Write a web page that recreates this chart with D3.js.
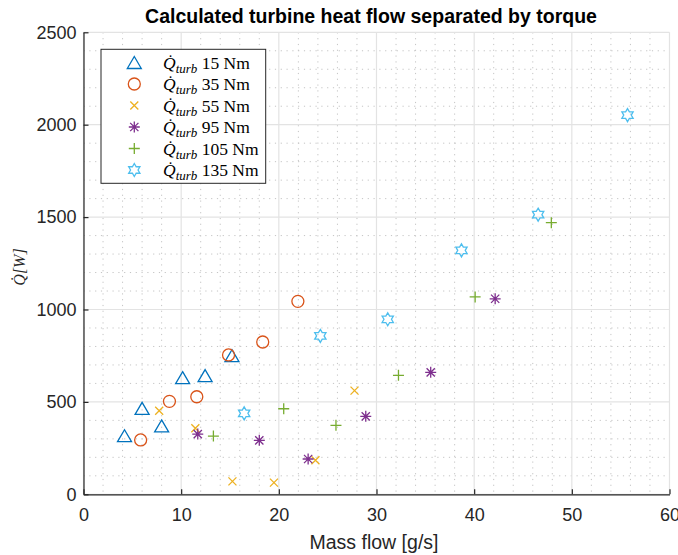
<!DOCTYPE html>
<html><head><meta charset="utf-8">
<script src="https://cdn.jsdelivr.net/npm/d3@7"></script>
<style>body{margin:0;background:#fff}svg{display:block}</style>
</head><body><svg id="c" width="678" height="555"></svg>
<script>
const seriesNames = ["15 Nm","35 Nm","55 Nm","95 Nm","105 Nm","135 Nm"];
const seriesColors = ["#0072BD","#D95319","#EDB120","#7E2F8E","#77AC30","#4DBEEE"];
const seriesMarkers = ["triangle","circle","x","asterisk","plus","hexagram"];
const massFlow15 = [4.2,6.0,8.0,10.15,12.45,15.2];
const heat15 = [317,465,370,631,642,750];
const massFlow35 = [5.85,8.8,11.6,14.85,18.35,21.95];
const heat35 = [294,503,528,754,824,1044];
const massFlow55 = [7.75,11.45,15.25,19.5,23.75,27.75];
const heat55 = [452,357,70,63,184,561];
const massFlow95 = [11.7,18.0,23.0,28.9,35.55,42.15];
const heat95 = [326,292,191,422,660,1058];
const massFlow105 = [13.3,20.5,25.85,32.25,40.1,47.9];
const heat105 = [315,463,373,644,1068,1470];
const massFlow135 = [16.45,24.25,31.15,38.7,46.55,55.7];
const heat135 = [438,857,947,1320,1513,2052];
const xTicks = [0,10,20,30,40,50,60];
const yTicks = [0,500,1000,1500,2000,2500];

const xs = [massFlow15,massFlow35,massFlow55,massFlow95,massFlow105,massFlow135];
const ys = [heat15,heat35,heat55,heat95,heat105,heat135];

const svg = d3.select("#c");
const L=83.5, R=669.5, T=32.3, B=494.3;
const x = d3.scaleLinear().domain([0,60]).range([L,R]);
const y = d3.scaleLinear().domain([0,2500]).range([B,T]);

// minor grid
const g = svg.append("g");
g.selectAll(".mx").data(d3.range(0,61,2).filter(v=>v%10)).join("line")
 .attr("x1",d=>x(d)).attr("x2",d=>x(d)).attr("y1",T).attr("y2",B)
 .attr("stroke","#c4c4c4").attr("stroke-width",1).attr("stroke-dasharray","1.2,4.6");
g.selectAll(".my").data(d3.range(0,2501,100).filter(v=>v%500)).join("line")
 .attr("y1",d=>y(d)).attr("y2",d=>y(d)).attr("x1",L).attr("x2",R)
 .attr("stroke","#c4c4c4").attr("stroke-width",1).attr("stroke-dasharray","1.2,4.6");
// major grid
g.selectAll(".Mx").data(xTicks).join("line")
 .attr("x1",d=>x(d)).attr("x2",d=>x(d)).attr("y1",T).attr("y2",B)
 .attr("stroke","#e3e3e3").attr("stroke-width",1.2);
g.selectAll(".My").data(yTicks).join("line")
 .attr("y1",d=>y(d)).attr("y2",d=>y(d)).attr("x1",L).attr("x2",R)
 .attr("stroke","#e3e3e3").attr("stroke-width",1.2);

// axes
const font = "'Liberation Sans', Arial, sans-serif";
const xa = svg.append("g").attr("transform",`translate(0,${B})`)
 .call(d3.axisBottom(x).tickValues(xTicks).tickFormat(d3.format("d")).tickSizeInner(-5).tickSizeOuter(0).tickPadding(14));
const ya = svg.append("g").attr("transform",`translate(${L},0)`)
 .call(d3.axisLeft(y).tickValues(yTicks).tickFormat(d3.format("d")).tickSizeInner(-5).tickSizeOuter(0).tickPadding(7));
[xa,ya].forEach(a=>{
  a.select(".domain").attr("stroke","#262626").attr("stroke-width",1.2);
  a.selectAll(".tick line").attr("stroke","#262626").attr("stroke-width",1.2);
  a.selectAll("text").attr("font-family",font).attr("font-size",18).attr("fill","#262626");
});
xa.selectAll("text").attr("dy","0.71em");

// markers
function markerPath(type){
  const p = d3.path();
  if(type==="triangle"){ const w=7,h=6; p.moveTo(0,-h); p.lineTo(w,h); p.lineTo(-w,h); p.closePath(); }
  else if(type==="circle"){ p.arc(0,0,6,0,2*Math.PI); }
  else if(type==="x"){ const s=4; p.moveTo(-s,-s);p.lineTo(s,s);p.moveTo(-s,s);p.lineTo(s,-s); }
  else if(type==="plus"){ const s=5.5; p.moveTo(-s,0);p.lineTo(s,0);p.moveTo(0,-s);p.lineTo(0,s); }
  else if(type==="asterisk"){ const s=5.5, d=s*0.75; p.moveTo(-s,0);p.lineTo(s,0);p.moveTo(0,-s);p.lineTo(0,s);
    p.moveTo(-d,-d);p.lineTo(d,d);p.moveTo(-d,d);p.lineTo(d,-d); }
  else if(type==="hexagram"){ const ro=6.5, ri=ro/Math.sqrt(3);
    for(let i=0;i<12;i++){ const a=-Math.PI/2+i*Math.PI/6; const r=i%2?ri:ro;
      const px=r*Math.cos(a), py=r*Math.sin(a); i?p.lineTo(px,py):p.moveTo(px,py);} p.closePath(); }
  return p.toString();
}

const plot = svg.append("g");
seriesNames.forEach((name,i)=>{
  const pts = xs[i].map((v,j)=>[v,ys[i][j]]);
  plot.append("g").selectAll("path").data(pts).join("path")
   .attr("d",markerPath(seriesMarkers[i]))
   .attr("transform",d=>`translate(${x(d[0])},${y(d[1])})`)
   .attr("fill","none").attr("stroke",seriesColors[i]).attr("stroke-width",1.3);
});

// legend
const lg = svg.append("g");
lg.append("rect").attr("x",101).attr("y",49.3).attr("width",164.7).attr("height",134)
 .attr("fill","#fff").attr("stroke","#262626").attr("stroke-width",1);
const serif = "'Liberation Serif','DejaVu Serif',serif";
seriesNames.forEach((name,i)=>{
  const ry = 62.5 + i*21.5;
  lg.append("path").attr("d",markerPath(seriesMarkers[i])).attr("transform",`translate(134.3,${ry})`)
   .attr("fill","none").attr("stroke",seriesColors[i]).attr("stroke-width",1.3);
  const t = lg.append("text").attr("x",163).attr("y",ry+6).attr("font-family",serif).attr("font-size",17.5).attr("fill","#000");
  t.append("tspan").attr("font-style","italic").text("Q\u0307");
  t.append("tspan").attr("font-style","italic").attr("font-size",13).attr("dy",4).text("turb");
  t.append("tspan").attr("dy",-4).text(" " + name);
});

// labels
svg.append("text").attr("x",371).attr("y",23).attr("text-anchor","middle")
 .attr("font-family",font).attr("font-weight","bold").attr("font-size",19.5).attr("fill","#000")
 .text("Calculated turbine heat flow separated by torque");
svg.append("text").attr("x",374).attr("y",549).attr("text-anchor","middle")
 .attr("font-family",font).attr("font-size",19.5).attr("fill","#262626").text("Mass flow [g/s]");
svg.append("text").attr("transform","translate(25,267) rotate(-90)").attr("text-anchor","middle")
 .attr("font-family",serif).attr("font-style","italic").attr("font-size",16).attr("fill","#262626").text("Q\u0307[W]");
</script></body></html>
